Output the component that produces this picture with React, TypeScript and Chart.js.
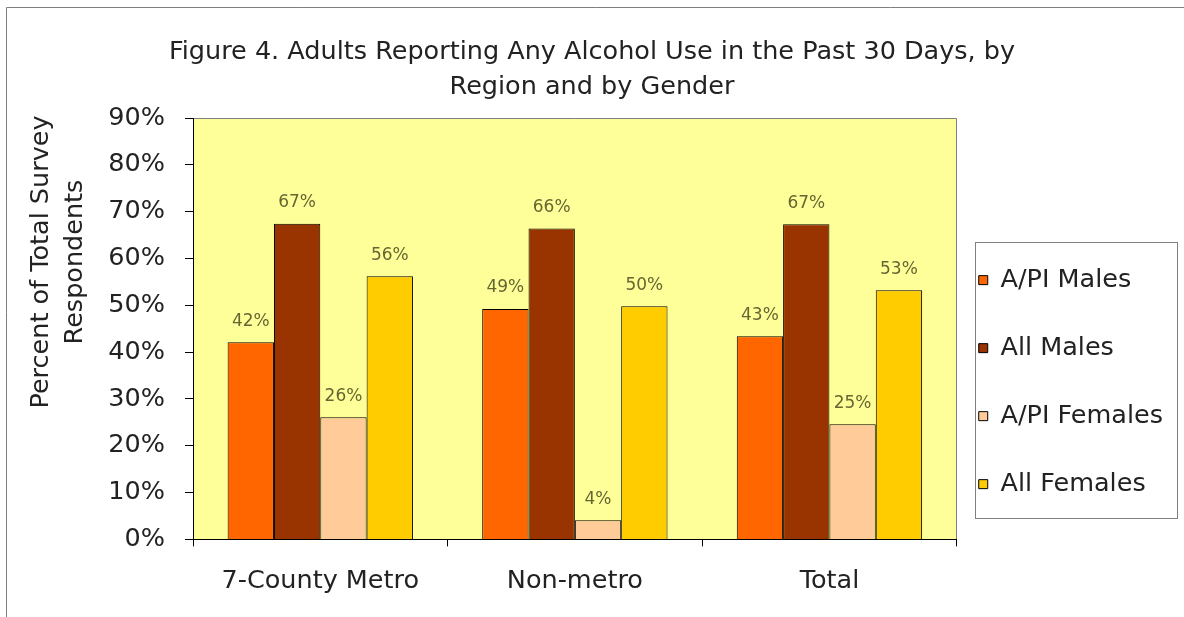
import React, { useEffect, useRef } from 'react';
import { Chart, registerables } from 'chart.js';

Chart.register(...registerables);

const FONT = "'DejaVu Sans', 'Liberation Sans', sans-serif";

const titleLines = ['Figure 4. Adults Reporting Any Alcohol Use in the Past 30 Days, by', 'Region and by Gender'];
const yTitleLines = ['Percent of Total Survey', 'Respondents'];
const categories = ['7-County Metro', 'Non-metro', 'Total'];
const seriesNames = ['A/PI Males', 'All Males', 'A/PI Females', 'All Females'];
const apiMales = [42.1, 49.2, 43.4];
const allMales = [67.4, 66.4, 67.3];
const apiFemales = [26.1, 4.1, 24.6];
const allFemales = [56.2, 49.8, 53.2];
const seriesColors = ['#FF6600', '#993300', '#FFCC99', '#FFCC00'];
const yMin = 0;
const yMax = 90;
const yStep = 10;

const decorPlugin = {
  id: 'decor',
  beforeDraw(chart: any) {
    const { ctx, chartArea: ca, width, height } = chart;
    ctx.save();
    ctx.fillStyle = '#ffffff';
    ctx.fillRect(0, 0, width, height);
    // outer frame
    ctx.strokeStyle = '#7f7f7f';
    ctx.lineWidth = 1;
    ctx.beginPath();
    ctx.moveTo(6.5, height + 5);
    ctx.lineTo(6.5, 7.5);
    ctx.lineTo(width + 5, 7.5);
    ctx.stroke();
    // plot area
    ctx.fillStyle = '#FFFF99';
    ctx.fillRect(ca.left, ca.top, ca.right - ca.left, ca.bottom - ca.top);
    ctx.strokeStyle = '#808080';
    ctx.beginPath();
    ctx.moveTo(ca.left, Math.round(ca.top) + 0.5);
    ctx.lineTo(Math.round(ca.right) - 0.5, Math.round(ca.top) + 0.5);
    ctx.lineTo(Math.round(ca.right) - 0.5, ca.bottom);
    ctx.stroke();
    // legend frame
    const hb = chart.legend && chart.legend.legendHitBoxes;
    if (hb && hb.length) {
      const l = Math.round(hb[0].left - 4);
      const t = Math.round(hb[0].top - 25);
      const b = Math.round(hb[hb.length - 1].top + 47);
      const r = l + 202;
      ctx.fillStyle = '#ffffff';
      ctx.fillRect(l, t, r - l, b - t);
      ctx.strokeStyle = '#808080';
      ctx.strokeRect(l + 0.5, t + 0.5, r - l, b - t);
    }
    ctx.restore();
  },
  afterDatasetsDraw(chart: any) {
    const { ctx } = chart;
    ctx.save();
    ctx.font = `17px ${FONT}`;
    ctx.fillStyle = '#666633';
    ctx.textAlign = 'center';
    ctx.textBaseline = 'middle';
    chart.data.datasets.forEach((ds: any, i: number) => {
      const meta = chart.getDatasetMeta(i);
      meta.data.forEach((bar: any, j: number) => {
        const v = ds.data[j] as number;
        ctx.fillText(`${Math.round(v)}%`, bar.x, bar.y - 21);
      });
    });
    ctx.restore();
  },
  afterDraw(chart: any) {
    const { ctx } = chart;
    ctx.save();
    ctx.font = `25.5px ${FONT}`;
    ctx.fillStyle = '#222222';
    ctx.textAlign = 'center';
    ctx.textBaseline = 'middle';
    ctx.translate(41, 262);
    ctx.rotate(-Math.PI / 2);
    yTitleLines.forEach((line, i) => ctx.fillText(line, 0, i * 34));
    ctx.restore();
  },
};

export default function App() {
  const ref = useRef<HTMLCanvasElement | null>(null);

  useEffect(() => {
    if (!ref.current) return;
    const seriesData = [apiMales, allMales, apiFemales, allFemales];
    const chart = new Chart(ref.current, {
      type: 'bar',
      data: {
        labels: categories,
        datasets: seriesNames.map((name, i) => ({
          label: name,
          data: seriesData[i],
          backgroundColor: seriesColors[i],
          borderColor: '#000000',
          borderWidth: 1,
          barPercentage: 1,
          categoryPercentage: 0.728,
        })),
      },
      options: {
        animation: false,
        responsive: true,
        maintainAspectRatio: false,
        layout: { padding: { left: 11, right: 11, top: 0, bottom: 0 } },
        scales: {
          x: {
            grid: { drawOnChartArea: false, tickLength: 7, color: '#000000', offset: true },
            border: { color: '#000000', width: 1 },
            ticks: { font: { family: FONT, size: 25.5 }, color: '#222222', padding: 20 },
          },
          y: {
            min: yMin,
            max: yMax,
            afterFit: (s: any) => {
              s.width = 182;
            },
            grid: { drawOnChartArea: false, tickLength: 8, color: '#000000' },
            border: { color: '#000000', width: 1 },
            ticks: {
              stepSize: yStep,
              font: { family: FONT, size: 25.5 },
              color: '#222222',
              padding: 20,
              callback: (v: any) => `${v}%`,
            },
          },
        },
        plugins: {
          tooltip: { enabled: false },
          title: {
            display: true,
            text: titleLines,
            color: '#222222',
            font: { family: FONT, size: 25.5, weight: 'normal', lineHeight: 1.373 },
            padding: { top: 34.5, bottom: 13.5 },
          },
          legend: {
            position: 'right',
            align: 'end',
            fullSize: false,
            labels: {
              boxWidth: 9,
              boxHeight: 9,
              padding: 22,
              color: '#222222',
              font: { family: FONT, size: 25.5, lineHeight: 1.804 },
              generateLabels: (c: any) =>
                Chart.defaults.plugins.legend.labels
                  .generateLabels(c)
                  .map((it: any) => ({ ...it, text: [it.text] })),
            },
          },
        },
      } as any,
      plugins: [decorPlugin],
    });
    return () => chart.destroy();
  }, []);

  return (
    <div style={{ position: 'fixed', left: 0, top: 0, width: 1184, height: 617 }}>
      <canvas ref={ref} />
    </div>
  );
}
